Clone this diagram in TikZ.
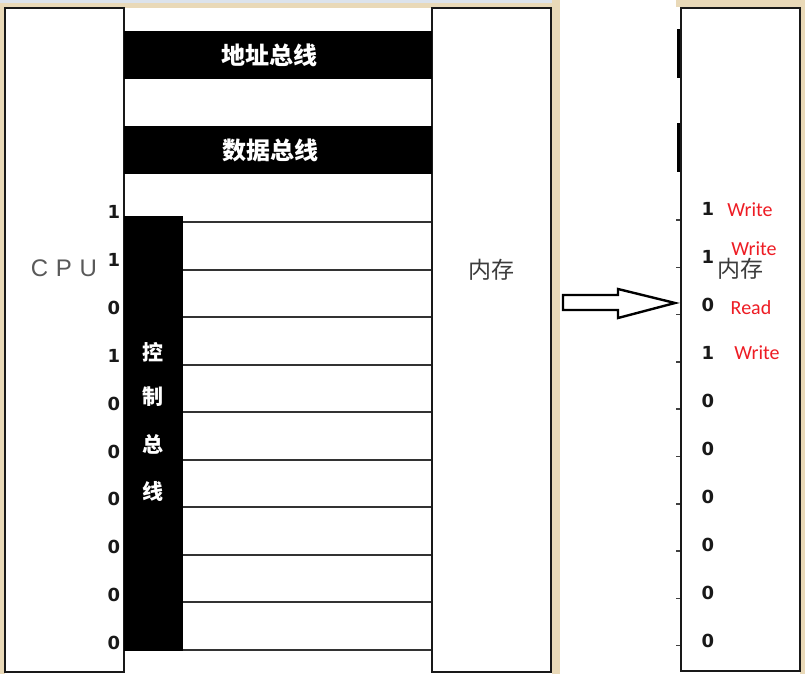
\documentclass[tikz,border=0pt]{standalone}
\usepackage{fontspec}
\newfontfamily\cjk{Noto Sans CJK SC}
\newfontfamily\digitfont{DejaVu Sans}
\newfontfamily\cpufont[LetterSpace=32]{Liberation Sans}
\newfontfamily\redfont{Carlito}
\definecolor{beige}{HTML}{E9D9B8}
\definecolor{topblue}{HTML}{DCE3EC}
\definecolor{redtxt}{HTML}{EE1C24}
\definecolor{graytxt}{HTML}{3C3C3C}
\tikzset{
  membox/.style={draw=black!90, line width=2.8pt, fill=white, inner sep=0pt,
    minimum width=119pt, minimum height=664pt},
  busbar/.style={fill=black, inner sep=0pt, outer sep=0pt},
  buslabel/.style={text=white, font=\cjk\bfseries\fontsize{24}{24}\selectfont, inner sep=0pt},
  ctrllabel/.style={text=white, font=\cjk\bfseries\fontsize{21}{21}\selectfont, inner sep=0pt},
  bit/.style={font=\digitfont\bfseries\fontsize{18}{18}\selectfont, text=black!90, inner sep=0pt},
  wire/.style={line width=2pt, draw=black!80},
  tick/.style={line width=1.5pt, draw=black!75},
  rw/.style={font=\redfont\fontsize{20}{20}\selectfont, text=redtxt, inner sep=0pt},
  memlabel/.style={font=\cjk\fontsize{23}{23}\selectfont, text=graytxt, inner sep=0pt},
  hollowarrow/.style={draw=black, line width=2.4pt, fill=white, line join=miter}
}
\begin{document}
\begin{tikzpicture}[x=1pt,y=-1pt]
\useasboundingbox (0,0) rectangle (805,674);
% background and frame strips
\fill[white] (0,0) rectangle (805,674);
\fill[beige] (0,0) rectangle (5,674);
\fill[beige] (0,3) rectangle (560,8);
\fill[topblue] (0,0) rectangle (560,3);
\fill[beige] (552,0) rectangle (560,674);
\fill[beige] (676,0) rectangle (805,7);
\fill[beige] (800,0) rectangle (805,674);

% left picture
\node[membox] (cpu) at (64.5,340) {};
\node[membox] (mem) at (491.5,340) {};
\node[busbar, minimum width=308pt, minimum height=48pt] (abus) at (278,55) {};
\node[busbar, minimum width=308pt, minimum height=48pt] (dbus) at (278,150) {};
\node[buslabel] (alab) at (269,55) {地址总线};
\node[buslabel] (dlab) at (270,150) {数据总线};
\node[busbar, minimum width=59pt, minimum height=435pt] (cbus) at (153.5,433.5) {};
\node[ctrllabel] (c1) at (153,352) {控};
\node[ctrllabel] (c2) at (153,397) {制};
\node[ctrllabel] (c3) at (153,444) {总};
\node[ctrllabel] (c4) at (153,491) {线};
\node[font=\cpufont\fontsize{24}{24}\selectfont, text=black!65, inner sep=0pt] (cpulab) at (64,268) {CPU};
\node[memlabel] (memlab) at (491,270) {内存};

\foreach \i in {0,...,9} {
  \coordinate (wl\i) at (183,222+47.5*\i);
  \coordinate (wr\i) at (431,222+47.5*\i);
  \draw[wire] (wl\i) -- (wr\i);
}
\foreach \b [count=\i from 0] in {1,1,0,1,0,0,0,0,0,0} {
  \node[bit] (lb\i) at (114,212+47.9*\i) {\b};
}

% arrow
\draw[hollowarrow] (563,295) coordinate (as) -- (618,295) -- (618,289) -- (675,303) coordinate (at) -- (618,318) -- (618,310) -- (563,310) -- cycle;

% right picture
\node[busbar, minimum width=4pt, minimum height=49pt] (as1) at (679,53.5) {};
\node[busbar, minimum width=4pt, minimum height=49pt] (ds1) at (679,147.5) {};
\foreach \i in {0,...,9} {
  \coordinate (tl\i) at (676,220+47.3*\i);
  \coordinate (tr\i) at (681,220+47.3*\i);
  \draw[tick] (tl\i) -- (tr\i);
}
\node[membox, minimum height=663pt] (mem2) at (740.5,339.5) {};
\foreach \b [count=\i from 0] in {1,1,0,1,0,0,0,0,0,0} {
  \node[bit] (rb\i) at (708,209+48*\i) {\b};
}
\node[memlabel] (memlab2) at (740,269) {内存};
\node[rw] (w1) at (750,210) {Write};
\node[rw] (w2) at (754,249) {Write};
\node[rw] (r3) at (751,308) {Read};
\node[rw] (w4) at (757,353) {Write};
\end{tikzpicture}
\end{document}
